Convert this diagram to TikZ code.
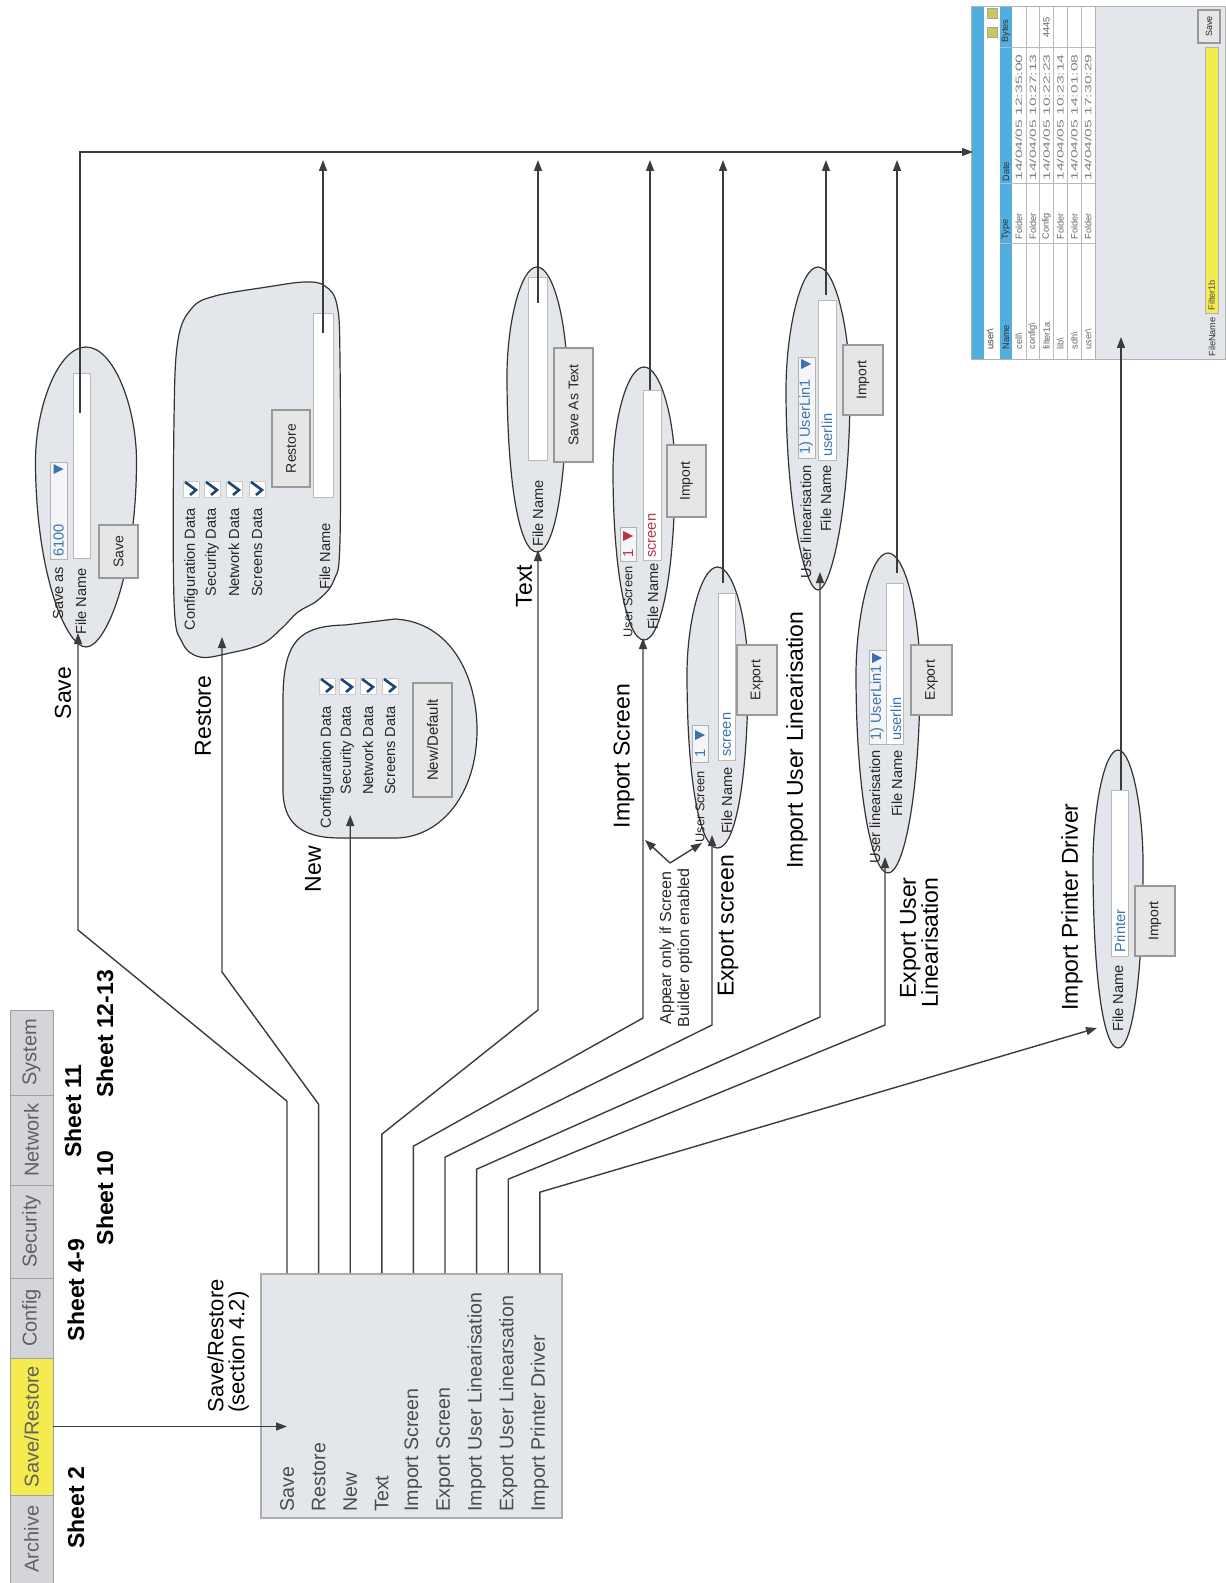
\documentclass[tikz,border=0pt]{standalone}
\usepackage{fontspec}
\setmainfont{Liberation Sans}
\usetikzlibrary{arrows.meta,positioning,calc}
\definecolor{panel}{HTML}{E3E6EA}
\definecolor{wire}{HTML}{3C3C3C}
\definecolor{tabgray}{HTML}{D3D5D9}
\definecolor{tabyellow}{HTML}{F4EB4E}
\definecolor{valblue}{HTML}{3A74B0}
\definecolor{valred}{HTML}{B8344A}
\definecolor{barblue}{HTML}{52AEDE}
\definecolor{tickblue}{HTML}{1E4670}
\definecolor{btnfill}{HTML}{E6E6E6}
\newcommand{\fs}[2]{\fontsize{#1}{#2}\selectfont}
% egg outline: [bottom roundness]{cx}{top}{bottom}{half width}
\newcommand{\egg}[5][0.4]{%
  \draw[blob] (#2,#3)
    .. controls ({#2+0.55*#5},#3) and ({#2+#5},{#3+0.2*(#4-#3)}) .. ({#2+#5},{#3+0.38*(#4-#3)})
    .. controls ({#2+#5},{#3+0.75*(#4-#3)}) and ({#2+#1*#5},#4) .. (#2,#4)
    .. controls ({#2-#1*#5},#4) and ({#2-#5},{#3+0.75*(#4-#3)}) .. ({#2-#5},{#3+0.38*(#4-#3)})
    .. controls ({#2-#5},{#3+0.2*(#4-#3)}) and ({#2-0.55*#5},#3) .. cycle;}
% tick box: {x}{y}
\newcommand{\tickbox}[2]{%
  \draw[fill=white,draw=gray!40,line width=0.3pt] ({#1-8},{#2-8}) rectangle ({#1+8},{#2+8});
  \draw[tickblue,line width=1.3pt] ({#1-1},{#2+6}) -- ({#1+5},{#2+1}) -- ({#1-6},{#2-7});}
% drop-down arrow: {x}{y}{colour}
\newcommand{\dropdn}[3]{\fill[#3] ({#1-5},{#2-5}) -- ({#1-5},{#2+5}) -- ({#1+5},#2) -- cycle;}

\begin{document}
\begin{tikzpicture}[x=0.5pt,y=-0.5pt,>={Triangle[length=5.5pt,width=4pt]},
  conn/.style={draw=wire,line width=0.7pt},
  lbl/.style={rotate=90,inner sep=0pt,font=\fs{11.5}{11}},
  sheet/.style={rotate=90,inner sep=0pt,font=\fs{11.5}{12}\bfseries},
  menu/.style={rotate=90,anchor=west,inner sep=0pt,text=black!70,font=\fs{9.8}{11}},
  tab/.style={rotate=90,draw=gray!75,fill=tabgray,text=black!62,font=\fs{10}{11},inner sep=0pt,minimum height=21.5pt},
  blob/.style={draw=black!80,fill=panel,line width=0.6pt},
  small/.style={rotate=90,inner sep=0pt,text=black!85,font=\fs{7.3}{8}},
  smaller/.style={small,font=\fs{6.4}{7}},
  val/.style={small,text=valblue},
  btn/.style={rotate=90,draw=gray!80,fill=btnfill,line width=0.9pt,text=black!85,font=\fs{7}{8},inner sep=0pt,minimum height=19.5pt},
  field/.style={fill=white,draw=gray!55,line width=0.3pt},
  drop/.style={fill=panel!40!white,draw=gray!60,line width=0.3pt},
  tiny/.style={rotate=90,inner sep=0pt,anchor=west,text=black!60,font=\fs{4.6}{5}},
]
\useasboundingbox (0,0) rectangle (1225,1583);
\fill[white] (0,0) rectangle (1225,1583);

% tab bar
\node[tab,minimum width=44pt] (tarch) at (31.5,1539) {Archive};
\node[tab,fill=tabyellow,minimum width=68.5pt] (tsave) at (31.5,1426.5) {Save/Restore};
\node[tab,minimum width=40pt] (tconf) at (31.5,1318) {Config};
\node[tab,minimum width=46.5pt] (tsec) at (31.5,1231.5) {Security};
\node[tab,minimum width=45pt] (tnet) at (31.5,1140) {Network};
\node[tab,minimum width=42.5pt] (tsys) at (31.5,1052.5) {System};
\node[sheet] (sh2) at (76,1508) {Sheet 2};
\node[sheet] (sh49) at (76,1290) {Sheet 4-9};
\node[sheet] (sh10) at (105,1198) {Sheet 10};
\node[sheet] (sh11) at (73,1111) {Sheet 11};
\node[sheet] (sh1213) at (105,1034) {Sheet 12-13};

% save/restore menu
\node[rotate=90,anchor=north west,inner sep=0pt,align=left,font=\fs{11}{10.5}] (srlbl) at (207,1413) {Save/Restore\\(section 4.2)};
\node[draw=gray!65,fill=panel,line width=0.8pt,minimum width=150.5pt,minimum height=122pt,inner sep=0pt] (menubox) at (411.5,1396) {};
\foreach \t [count=\i] in {Save,Restore,New,Text,Import Screen,Export Screen,Import User Linearisation,Export User Linearsation,Import Printer Driver}
  \node[menu] (m\i) at ({287+31.6*(\i-1)},1512) {\t};
\coordinate (srin) at (287,1423);
\draw[conn,->] (tsave.south) -- (tsave.south -| srin);

% Save
\egg{86}{347}{647}{50.5}
\node[small,anchor=west] (saveas) at (58,620) {Save as};
\draw[drop] (50,462) rectangle (67,559);
\node[val,anchor=west] (saveval) at (58.5,557) {6100};
\dropdn{58.5}{469}{valblue}
\node[small,anchor=west] (savefn) at (81,635) {File Name};
\draw[field] (73,373) rectangle (90,558);
\node[btn,minimum width=26.5pt] (bsave) at (118.5,551.5) {Save};
\node[lbl] (lsave) at (63,693) {Save};

% Restore
\draw[blob] plot[smooth cycle,tension=0.6] coordinates {(174,420) (178,340) (192,308) (215,296) (267,287) (305,282) (325,286) (337,305) (340,360) (340,540) (334,580) (318,600) (298,612) (282,628) (262,644) (230,653) (200,657) (182,642) (174,600)};
\foreach \t/\x [count=\i] in {Configuration Data/191,Security Data/212,Network Data/234,Screens Data/257} {
  \node[small,anchor=east] (rs\i) at (\x,508) {\t};
  \tickbox{\x}{489}}
\node[btn,minimum width=38.5pt,minimum height=19pt] (brestore) at (291,448.5) {Restore};
\node[small,anchor=west] (rsfn) at (325,590) {File Name};
\draw[field] (313,313) rectangle (333,497);
\node[lbl] (lrestore) at (203,716) {Restore};

% New
\draw[blob] (283,700) .. controls (283,640) and (300,626) .. (345,625) -- (395,619)
  .. controls (450,622) and (477,675) .. (477,730) .. controls (477,795) and (440,838) .. (395,838)
  -- (340,838) .. controls (300,838) and (283,822) .. (283,790) -- cycle;
\foreach \t/\x [count=\i] in {Configuration Data/327,Security Data/347,Network Data/368,Screens Data/390} {
  \node[small,anchor=east] (nw\i) at (\x,706) {\t};
  \tickbox{\x}{686}}
\node[btn,minimum width=57pt,font=\fs{7.5}{8}] (bnew) at (432.5,740) {New/Default};
\node[lbl] (lnew) at (313,869) {New};

% Text
\egg[0.6]{537}{267}{552}{30}
\draw[field] (528,277) rectangle (547,460);
\node[small,anchor=west] (txfn) at (538,547) {File Name};
\node[btn,minimum width=57pt] (btext) at (573.5,405) {Save As Text};
\node[lbl] (ltext) at (524,586) {Text};

% Import screen
\egg[0.55]{644}{367}{640}{31}
\node[smaller,anchor=east] (isus) at (628,566) {User Screen};
\draw[drop] (620,527) rectangle (636,561);
\node[small,anchor=west,text=valred] (isnum) at (628,558) {1};
\dropdn{628}{536}{valred}
\node[small,anchor=east] (isfn) at (653,563) {File Name};
\draw[field] (643,390) rectangle (661,560);
\node[small,anchor=west,text=valred] (isval) at (652,558) {screen};
\node[btn,minimum width=36pt] (bimps) at (686.5,481) {Import};
\node[lbl] (limps) at (624,756) {Import Screen};

% Export screen
\egg[0.6]{717.5}{567}{848}{30.5}
\node[smaller,anchor=east] (esus) at (700,771) {User Screen};
\draw[drop] (692,725) rectangle (708,762);
\node[val,anchor=west] (esnum) at (700,758) {1};
\dropdn{700}{735}{valblue}
\node[small,anchor=east] (esfn) at (727,767) {File Name};
\draw[field] (718,593) rectangle (735,760);
\node[val,anchor=west] (esval) at (727,757) {screen};
\node[btn,minimum width=35pt,minimum height=20pt] (bexps) at (757,680) {Export};
\node[lbl] (lexps) at (728,926) {Export screen};
\node[rotate=90,inner sep=0pt,align=center,font=\fs{8}{9},text=black!85] (note) at (676,948) {Appear only if Screen\\Builder option enabled};

% Import user linearisation
\egg{818}{267}{590}{32}
\node[small,anchor=east] (iulul) at (806,465) {User linearisation};
\draw[drop] (798,357) rectangle (815,458);
\node[val,anchor=west] (iulval) at (806,455) {1) UserLin1};
\dropdn{806}{364}{valblue}
\node[small,anchor=east] (iulfn) at (826,465) {File Name};
\draw[field] (818,300) rectangle (836,460);
\node[val,anchor=west] (iuluval) at (827,457) {userlin};
\node[btn,minimum width=35pt,minimum height=20pt] (bimpl) at (863,380) {Import};
\node[lbl] (limpl) at (797,740) {Import User Linearisation};

% Export user linearisation
\egg[0.5]{888}{553}{873}{32}
\node[small,anchor=east] (eulul) at (875,750) {User linearisation};
\draw[drop] (869,650) rectangle (886,744);
\node[val,anchor=west] (eulval) at (877,741) {1) UserLin1};
\dropdn{877}{658}{valblue}
\node[small,anchor=east] (eulfn) at (897,750) {File Name};
\draw[field] (886,583) rectangle (903,744);
\node[val,anchor=west] (euluval) at (896,741) {userlin};
\node[btn,minimum width=35pt,minimum height=20.5pt] (bexpl) at (931.5,680) {Export};
\node[lbl,anchor=east,align=right] (lexpl) at (919,877) {Export User\\Linearisation};

% Import printer driver
\egg[0.6]{1118}{750}{1048}{25}
\node[small,anchor=west] (prfn) at (1118,1032) {File Name};
\draw[field] (1111,790) rectangle (1128,956);
\node[val,anchor=west] (prval) at (1120,953) {Printer};
\node[btn,minimum width=35pt,minimum height=20pt] (bprn) at (1155,921) {Import};
\node[lbl] (lprn) at (1072,907) {Import Printer Driver};

% file browser
\fill[panel] (971,7) rectangle (1225,360);
\fill[barblue] (971,7) rectangle (984,360);
\fill[white] (984,7) rectangle (1000,360);
\fill[barblue] (1000,7) rectangle (1012,360);
\fill[white] (1012,7) rectangle (1095,360);
\foreach \k in {1,...,5} \draw[gray!55,line width=0.3pt] ({1012+13.83*\k},7) -- ({1012+13.83*\k},360);
\foreach \c in {243,183,47} \draw[gray!55,line width=0.3pt] (1000,\c) -- (1095,\c);
\draw[gray!60,line width=0.5pt] (1095,7) -- (1095,360);
\draw[gray!60,line width=0.5pt] (971,7) rectangle (1225,360);
\foreach \y in {8,27} \draw[fill=yellow!55!gray,draw=gray!70,line width=0.3pt] (987,\y) rectangle (997,{\y+10});
\node[tiny,text=black!80] (fbpath) at (990,350) {user\textbackslash};
\node[tiny,text=black!80] (hname) at (1006,350) {Name};
\node[tiny,text=black!80] (htype) at (1006,240) {Type};
\node[tiny,text=black!80] (hdate) at (1006,182) {Date};
\node[tiny,text=black!80] (hbytes) at (1006,43) {Bytes};
\foreach \n/\ty/\d [count=\k] in {{cell\textbackslash}/Folder/12:35:00,{config\textbackslash}/Folder/10:27:13,filter1a/Config/10:22:23,{lib\textbackslash}/Folder/10:23:14,{sdh\textbackslash}/Folder/14:01:08,{user\textbackslash}/Folder/17:30:29} {
  \node[tiny] (fn\k) at ({1012+13.83*(\k-0.5)},350) {\n};
  \node[tiny] (ft\k) at ({1012+13.83*(\k-0.5)},240) {\ty};
  \node[tiny,text=black!50] (fd\k) at ({1012+13.83*(\k-0.5)},181) {\scalebox{1.7}[1]{14/04/05 \d}};}
\node[tiny] (fb3) at ({1012+13.83*2.5},38) {4445};
\node[tiny,text=black!80] (fnlbl) at (1212,357) {FileName};
\draw[fill=tabyellow,draw=gray!60,line width=0.3pt] (1205,47) rectangle (1218,313);
\node[tiny,text=black!70] (fnval) at (1211.5,311) {Filter1b};
\node[btn,font=\fs{4.5}{5},minimum width=16.5pt,minimum height=11pt,line width=0.6pt] (fbsave) at (1209,26.5) {Save};

% connectors from the menu
\coordinate (in1) at (78,633);
\coordinate (in2) at (222,637);
\coordinate (in3) at (350.2,815);
\coordinate (in4) at (538,550);
\coordinate (in5) at (643,638);
\coordinate (in6) at (712,835);
\coordinate (in7) at (820,572);
\coordinate (in8) at (885,857);
\coordinate (in9) at (1097,1028);
\draw[conn,->] (m1 |- menubox.north) -- ++(0,-172) -- (78,930) -- (in1);
\draw[conn,->] (m2 |- menubox.north) -- ++(0,-169) -- (222,972) -- (in2);
\draw[conn,->] (m3 |- menubox.north) -- (in3);
\draw[conn,->] (m4 |- menubox.north) -- ++(0,-139) -- (538,1010) -- (in4);
\draw[conn,->] (m5 |- menubox.north) -- ++(0,-127) -- (643,1018) -- (in5);
\draw[conn,->] (m6 |- menubox.north) -- ++(0,-116) -- (712,1025) -- (in6);
\draw[conn,->] (m7 |- menubox.north) -- ++(0,-104) -- (820,1017) -- (in7);
\draw[conn,->] (m8 |- menubox.north) -- ++(0,-94) -- (885,1025) -- (in8);
\draw[conn,->] (m9 |- menubox.north) -- ++(0,-81) -- (in9);

% note arrows
\coordinate (apex) at (670,863);
\coordinate (nt1) at (645,840);
\coordinate (nt2) at (702,843);
\draw[conn,->] (apex) -- (nt1);
\draw[conn,->] (apex) -- (nt2);

% returns to the file browser
\coordinate (fbin) at (973,152);
\coordinate (busin) at (0,160);
\coordinate (o1) at (80,413);
\coordinate (o2) at (323,333);
\coordinate (o4) at (538,303);
\coordinate (o5) at (650,390);
\coordinate (o6) at (723,583);
\coordinate (o7) at (826,295);
\coordinate (o8) at (897,573);
\coordinate (o9) at (1121,790);
\coordinate (fbout) at (1121,337);
\draw[conn,->] (o1) |- (fbin);
\foreach \c in {o2,o4,o5,o6,o7,o8} \draw[conn,->] (\c) -- (\c |- busin);
\draw[conn,->] (o9) -- (fbout);
\end{tikzpicture}
\end{document}
